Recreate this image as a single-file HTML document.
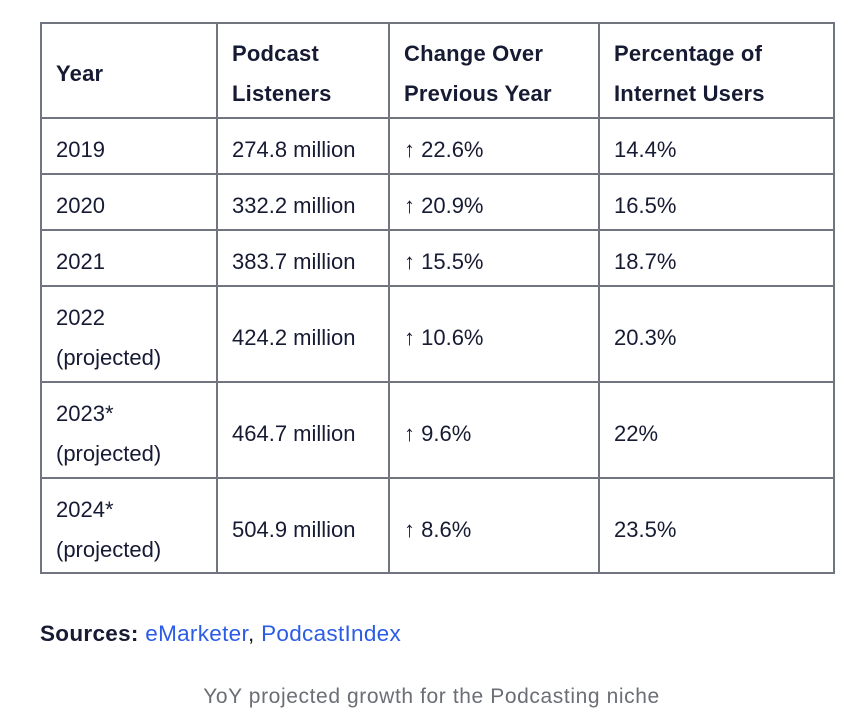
<!DOCTYPE html>
<html><head><meta charset="utf-8"><style>
body{margin:0;width:863px;height:720px;background:#fff;position:relative;overflow:hidden;font-family:"Liberation Sans",sans-serif;color:#161b33}
.c{position:absolute;font-size:22px;line-height:40px;padding-left:16px;padding-top:8px;box-sizing:border-box;display:flex;align-items:center}
.h{font-weight:bold;letter-spacing:0.2px}
.hl{position:absolute;left:40px;width:795px;height:1.5px;background:#70757f}
.vl{position:absolute;top:22px;height:552px;width:1.5px;background:#70757f}
</style></head><body>
<div>
<div class="hl" style="top:22px"></div><div class="hl" style="top:117px"></div><div class="hl" style="top:173px"></div><div class="hl" style="top:229px"></div><div class="hl" style="top:285px"></div><div class="hl" style="top:381px"></div><div class="hl" style="top:477px"></div><div class="hl" style="top:572px"></div>
<div class="vl" style="left:40px"></div><div class="vl" style="left:216px"></div><div class="vl" style="left:388px"></div><div class="vl" style="left:598px"></div><div class="vl" style="left:833px"></div>
</div>
<script>
const rows=[["2019","274.8 million","↑ 22.6%","14.4%"],["2020","332.2 million","↑ 20.9%","16.5%"],["2021","383.7 million","↑ 15.5%","18.7%"],["2022<br>(projected)","424.2 million","↑ 10.6%","20.3%"],["2023*<br>(projected)","464.7 million","↑ 9.6%","22%"],["2024*<br>(projected)","504.9 million","↑ 8.6%","23.5%"]];
const heads=["Year","Podcast<br>Listeners","Change Over<br>Previous Year","Percentage of<br>Internet Users"];
const xs=[40,216,388,598,834];
const ys=[22,118,174,230,286,382,478,573];
function cell(html,ci,ri,h){const d=document.createElement('div');d.className='c'+(h?' h':'');d.style.left=xs[ci]+'px';d.style.width=(xs[ci+1]-xs[ci])+'px';d.style.top=ys[ri]+'px';d.style.height=(ys[ri+1]-ys[ri])+'px';d.innerHTML='<span>'+html+'</span>';


document.body.appendChild(d);}
heads.forEach((t,i)=>cell(t,i,0,true));
rows.forEach((r,ri)=>r.forEach((t,ci)=>cell(t,ci,ri+1,false)));
</script>
<div style="position:absolute;left:40px;top:620px;font-size:22.5px;line-height:28px;letter-spacing:0.3px"><b>Sources:</b> <span style="color:#2b5ce6">eMarketer</span>, <span style="color:#2b5ce6">PodcastIndex</span></div>
<div style="position:absolute;left:0;width:863px;top:684px;text-align:center;font-size:21px;letter-spacing:0.6px;color:#6b6e75;line-height:26px">YoY projected growth for the Podcasting niche</div>
</body></html>
